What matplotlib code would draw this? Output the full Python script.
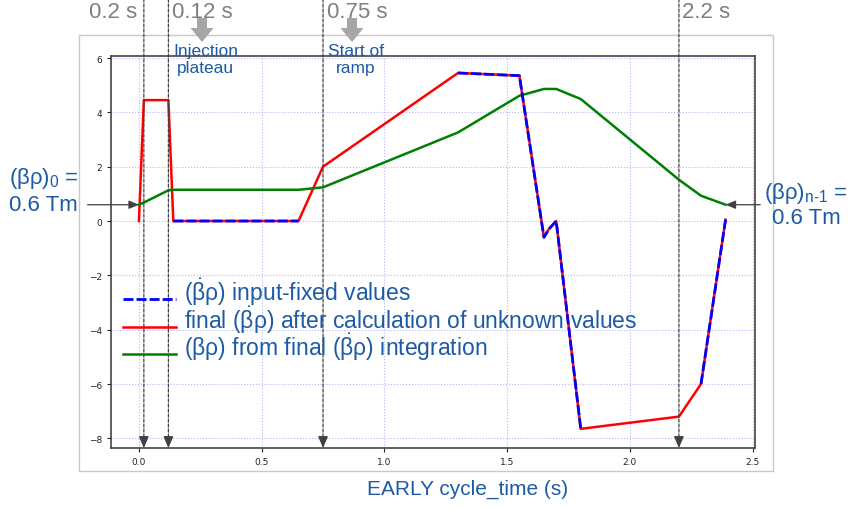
import numpy as np
import matplotlib
matplotlib.use("Agg")
import matplotlib.pyplot as plt
from matplotlib.patches import Rectangle, FancyArrow
from matplotlib.legend_handler import HandlerLine2D

plt.rcParams['font.family'] = ['Liberation Sans', 'DejaVu Sans']
plt.rcParams['mathtext.fontset'] = 'custom'
plt.rcParams['mathtext.rm'] = 'Liberation Sans'
plt.rcParams['mathtext.it'] = 'Liberation Sans:italic'
plt.rcParams['mathtext.bf'] = 'Liberation Sans:bold'

# ---------- data ----------
cycle_time = [0.0, 0.02, 0.12, 0.14, 0.65, 0.75, 1.30, 1.55, 1.65, 1.67, 1.70, 1.80, 2.20, 2.29, 2.39]
bdot_final = [0.0, 4.45, 4.45, 0.0, 0.0, 2.0, 5.45, 5.35, -0.6, -0.3, 0.0, -7.65, -7.2, -6.0, 0.05]
input_fixed = [False, False, False, True, True, False, True, True, True, True, True, True, False, True, True]
brho = [0.6, 0.68, 1.13, 1.15, 1.15, 1.24, 3.26, 4.61, 4.86, 4.86, 4.86, 4.49, 1.52, 0.93, 0.6]

marker_times = [0.02, 0.12, 0.75, 2.2]
marker_labels = ['0.2 s', '0.12 s', '0.75 s', '2.2 s']
xticks = [0.0, 0.5, 1.0, 1.5, 2.0, 2.5]
yticks = [-8, -6, -4, -2, 0, 2, 4, 6]

BLUE_TXT = '#1c5aa6'
GREY_TXT = '#7f7f7f'
W, H = 851, 510


def px(x, y):
    # pixel position (from top-left) -> figure fraction
    return x / W, 1 - y / H


class LowLineHandler(HandlerLine2D):
    # draws the legend line a little below the middle of the label
    def create_artists(self, legend, orig_handle, xdescent, ydescent,
                       width, height, fontsize, trans):
        return super().create_artists(legend, orig_handle, xdescent, ydescent + 0.6 * fontsize,
                                      width, height, fontsize, trans)


t = np.array(cycle_time)
bdot = np.array(bdot_final)
bdot_fixed = np.where(input_fixed, bdot, np.nan)

fig = plt.figure(figsize=(8.51, 5.10), dpi=100)
ax = fig.add_axes([0.1304, 0.1196, 0.7568, 0.7686])

# light frame around the plot area
fig.add_artist(Rectangle(px(79, 472), 694 / W, 436 / H, transform=fig.transFigure,
                         fill=False, ec='#c8c8c8', lw=1, zorder=0))

l_red, = ax.plot(t, bdot, color='red', lw=1.8, zorder=3)
l_blue, = ax.plot(t, bdot_fixed, color='blue', lw=2, ls=(0, (3.6, 1.1)), zorder=4)
l_green, = ax.plot(t, brho, color='green', lw=1.8, zorder=3)

ax.set_xlim(-0.114, 2.51)
ax.set_ylim(-8.355, 6.073)
ax.set_xticks(xticks)
ax.set_yticks(yticks)
ax.grid(True, color='#b4b4ff', ls=':', lw=0.8)
ax.set_axisbelow(True)
for s in ax.spines.values():
    s.set_color('#444444')
    s.set_linewidth(1.2)
ax.tick_params(direction='out', length=3, width=0.8, labelsize=6.5, colors='#222222')
for lab in ax.get_xticklabels() + ax.get_yticklabels():
    lab.set_fontfamily('DejaVu Sans')

# dashed time markers with arrow heads on the time axis
y_bot = ax.get_ylim()[0]
for tm, lab in zip(marker_times, marker_labels):
    ax.annotate('', xy=(tm, y_bot + 0.35), xytext=(tm, 1.0),
                xycoords='data', textcoords=('data', 'figure fraction'),
                arrowprops=dict(arrowstyle='-', ls=(0, (2.5, 1.5)), lw=0.9, color='#404040',
                                shrinkA=0, shrinkB=0), annotation_clip=False)
    ax.annotate('', xy=(tm, y_bot), xytext=(tm, y_bot + 0.4),
                arrowprops=dict(arrowstyle='-|>,head_length=0.7,head_width=0.3',
                                mutation_scale=10, lw=0.9, color='#404040',
                                shrinkA=0, shrinkB=0), annotation_clip=False)
    if tm < 0.05:
        ax.annotate(lab, xy=(tm, px(0, 17.5)[1]), xycoords=('data', 'figure fraction'),
                    xytext=(-5, 0), textcoords='offset points', ha='right', va='baseline',
                    fontsize=16, color=GREY_TXT, annotation_clip=False)
    else:
        ax.annotate(lab, xy=(tm, px(0, 17.5)[1]), xycoords=('data', 'figure fraction'),
                    xytext=(2.5, 0), textcoords='offset points', ha='left', va='baseline',
                    fontsize=16, color=GREY_TXT, annotation_clip=False)

# grey block arrows under the phase labels
for xc in (202, 352):
    x0, y0 = xc / 100, (H - 19) / 100
    fig.add_artist(FancyArrow(x0, y0, 0, -0.24, width=0.10, head_width=0.23,
                              head_length=0.14, length_includes_head=True,
                              transform=fig.dpi_scale_trans, color='#a6a6a6', lw=0))

fig.text(*px(205.5, 44), 'Injection\nplateau', ha='center', va='top',
         fontsize=12.5, color=BLUE_TXT, linespacing=1.2)
fig.text(*px(356, 44), 'Start of\nramp', ha='center', va='top',
         fontsize=12.5, color=BLUE_TXT, linespacing=1.2)

# boundary values of the integrated curve
fig.text(*px(9, 191), '$\\mathregular{(βρ)_0}$ =\n0.6 Tm', ha='left', va='center',
         fontsize=16, color=BLUE_TXT, linespacing=1.2, zorder=5)
fig.text(*px(806, 205), '$\\mathregular{(βρ)_{\\text{n-1}}}$ =\n0.6 Tm', ha='center',
         va='center', fontsize=16, color=BLUE_TXT, linespacing=1.15, zorder=5)
ax.annotate('', xy=(t[0], brho[0]), xytext=(-37, 0), textcoords='offset points',
            arrowprops=dict(arrowstyle='-|>,head_length=0.6,head_width=0.25',
                            mutation_scale=10, lw=0.9, color='#404040',
                            shrinkA=0, shrinkB=0), annotation_clip=False)
ax.annotate('', xy=(t[-1], brho[-1]), xytext=(25, 0), textcoords='offset points',
            arrowprops=dict(arrowstyle='-|>,head_length=0.6,head_width=0.25',
                            mutation_scale=10, lw=0.9, color='#404040',
                            shrinkA=0, shrinkB=0), annotation_clip=False)

bdot_sym = '$\\mathregular{(\\dot{β}ρ)}$'
fig.legend([l_blue, l_red, l_green],
           [bdot_sym + ' input-fixed values',
            'final ' + bdot_sym + ' after calculation of unknown values',
            '(βρ) from final ' + bdot_sym + ' integration'],
           loc='upper left', bbox_to_anchor=px(123, 277), frameon=False,
           fontsize=16.5, labelcolor=BLUE_TXT, handlelength=2.3, handletextpad=0.36,
           borderpad=0, borderaxespad=0, labelspacing=-0.17,
           handler_map={l_blue: LowLineHandler(), l_red: LowLineHandler(),
                        l_green: LowLineHandler()})

fig.text(*px(467.5, 489), 'EARLY cycle_time (s)', ha='center', va='center',
         fontsize=15, color=BLUE_TXT)

fig.savefig('out.png', dpi=100)
